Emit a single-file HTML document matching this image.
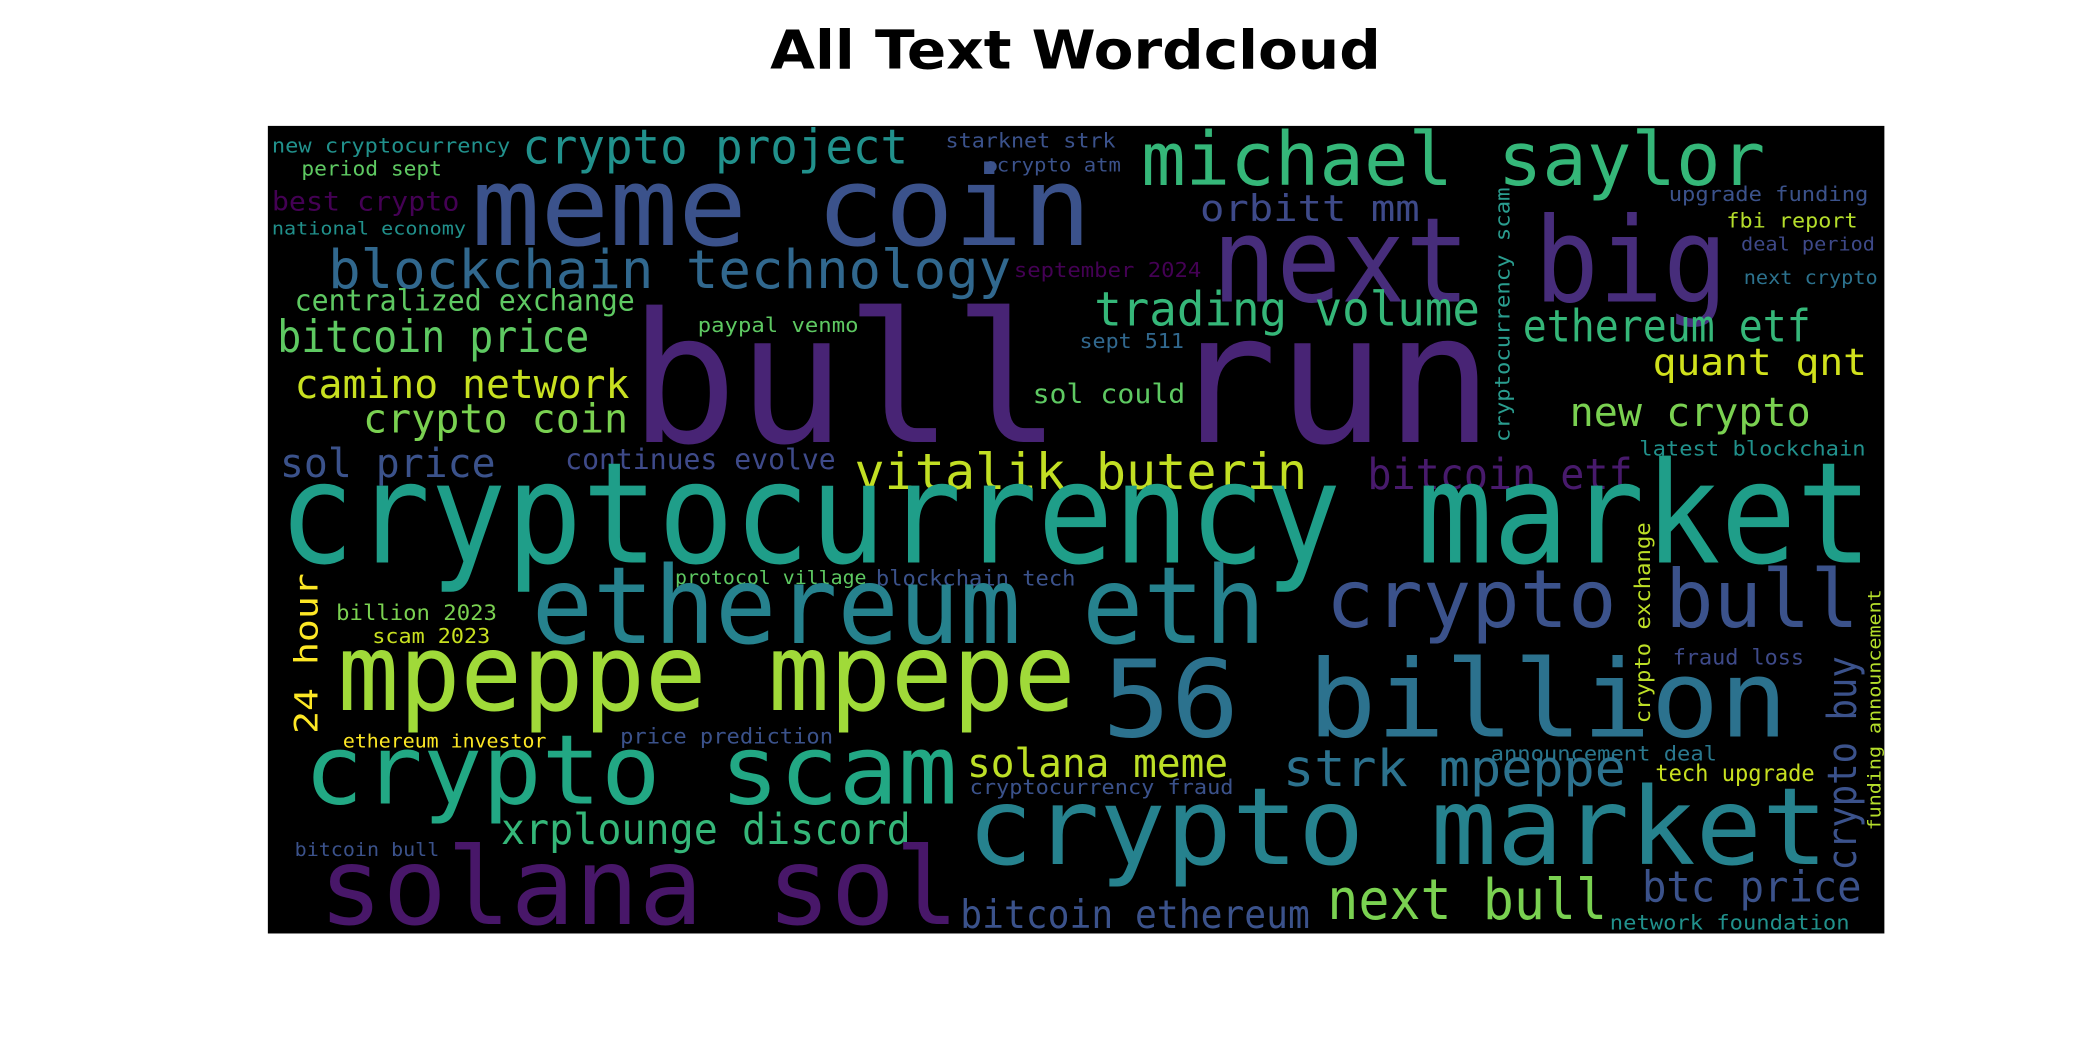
<!DOCTYPE html>
<html><head><meta charset="utf-8"><style>
html,body{margin:0;padding:0;background:#fff;}
svg{display:block;}
</style></head><body>
<svg id="chart" width="2100" height="1050" viewBox="0 0 1568 784" xmlns="http://www.w3.org/2000/svg">
<text x="803" y="51" text-anchor="middle" font-family="DejaVu Sans, Liberation Sans, sans-serif" font-weight="bold" font-size="40" textLength="456" lengthAdjust="spacingAndGlyphs" fill="#000">All Text Wordcloud</text>
<rect x="200" y="94" width="1207" height="603" fill="#000"/>
<g id="words"></g>
</svg>
<script>
const words = ["new cryptocurrency","period sept","crypto project","starknet strk","●crypto atm","michael saylor","meme coin","best crypto","national economy","next big","orbitt mm","upgrade funding","fbi report","deal period","next crypto","cryptocurrency scam","blockchain technology","september 2024","centralized exchange","trading volume","paypal venmo","bull run","bitcoin price","ethereum etf","sept 511","quant qnt","camino network","sol could","crypto coin","new crypto","latest blockchain","sol price","continues evolve","vitalik buterin","bitcoin etf","cryptocurrency market","24 hour","protocol village","blockchain tech","ethereum eth","crypto bull","crypto exchange","funding announcement","billion 2023","scam 2023","fraud loss","mpeppe mpepe","56 billion","crypto buy","ethereum investor","price prediction","announcement deal","solana meme","strk mpeppe","tech upgrade","crypto scam","cryptocurrency fraud","crypto market","xrplounge discord","bitcoin bull","solana sol","next bull","btc price","bitcoin ethereum","network foundation"];
const sizes = [15,15,36,15,14,55,82,20,13,88,27,15,15,14,14,15,40,15,22,35,15,135,33,33,15,28,30,20,30,30,15,30,21,37,32,105,24,14,16,80,60,16,13,16,15,16,80,80,30,14,16,15,30,38,17,72,15,80,32,14,80,42,32,29,15];
const colors = ["#21918c","#5ec962","#21918c","#3b528b","#3b528b","#35b779","#3b528b","#440154","#21918c","#472d7b","#3e4a89","#3b528b","#b5de2b","#3e4989","#2c728e","#2a9d8f","#31688e","#440154","#5ec962","#35b779","#5ec962","#482475","#5ec962","#35b779","#31688e","#d0e11c","#c8e020","#5ec962","#7ad151","#7ad151","#21918c","#3b528b","#3e4a89","#c2df23","#481a6c","#1f9e89","#fde725","#5ec962","#3b528b","#26828e","#3b528b","#bddf26","#b5de2b","#7ad151","#c8e020","#3e4a89","#a0da39","#2c728e","#3b528b","#fde725","#3b528b","#2a788e","#bddf26","#2c728e","#c8e020","#22a884","#3b528b","#26828e","#35b779","#3b528b","#481769","#7ad151","#3b528b","#3b528b","#21918c"];
// layout: [x, y, length, rotated]
const layout = [[203,114,178,0],[225,131,105,0],[390,122,288,0],[706,110,127,0],[735,128,102,0],[852,138,466,0],[352,183,463,0],[203,157,140,0],[203,175,145,0],[905,225,385,0],[896,165,164,0],[1246,150,149,0],[1289,170,98,0],[1300,187,100,0],[1302,212,100,0],[1127,330,190,1],[245,215,510,0],[757,207,140,0],[220,232,254,0],[817,243,288,0],[521,248,120,0],[470,330,645,0],[207,263,233,0],[1137,255,215,0],[806,260,78,0],[1234,280,160,0],[220,297,250,0],[771,301,114,0],[271,323,198,0],[1172,318,180,0],[1224,340,169,0],[209,356,161,0],[422,350,202,0],[638,365,338,0],[1021,365,198,0],[208,420,1190,0],[237,548,120,1],[504,436,143,0],[654,437,149,0],[397,480,548,0],[990,468,398,0],[1232,540,150,1],[1404,620,180,1],[251,463,120,0],[278,480,88,0],[1249,496,98,0],[252,530,551,0],[823,550,512,0],[1386,650,160,1],[256,558,152,0],[463,555,159,0],[1113,568,169,0],[722,580,195,0],[958,587,256,0],[1236,583,119,0],[227,600,488,0],[724,593,197,0],[722,645,643,0],[374,630,306,0],[220,639,108,0],[238,690,478,0],[991,686,209,0],[1226,673,164,0],[717,693,261,0],[1202,694,179,0]];
const g = document.getElementById('words');
const NS = 'http://www.w3.org/2000/svg';
words.forEach((w, i) => {
  const t = document.createElementNS(NS, 'text');
  
  
  const [x, y, len, rot] = layout[i];
  t.setAttribute('x', x);
  t.setAttribute('y', y);
  if (rot) t.setAttribute('transform', 'rotate(-90 ' + x + ' ' + y + ')');
  t.setAttribute('font-family', 'DejaVu Sans Mono, Liberation Mono, monospace');
  t.setAttribute('font-size', sizes[i]);
  t.setAttribute('fill', colors[i]);
  t.setAttribute('textLength', len);
  t.setAttribute('lengthAdjust', 'spacingAndGlyphs');
  t.textContent = w;
  g.appendChild(t);
});
</script>
</body></html>
